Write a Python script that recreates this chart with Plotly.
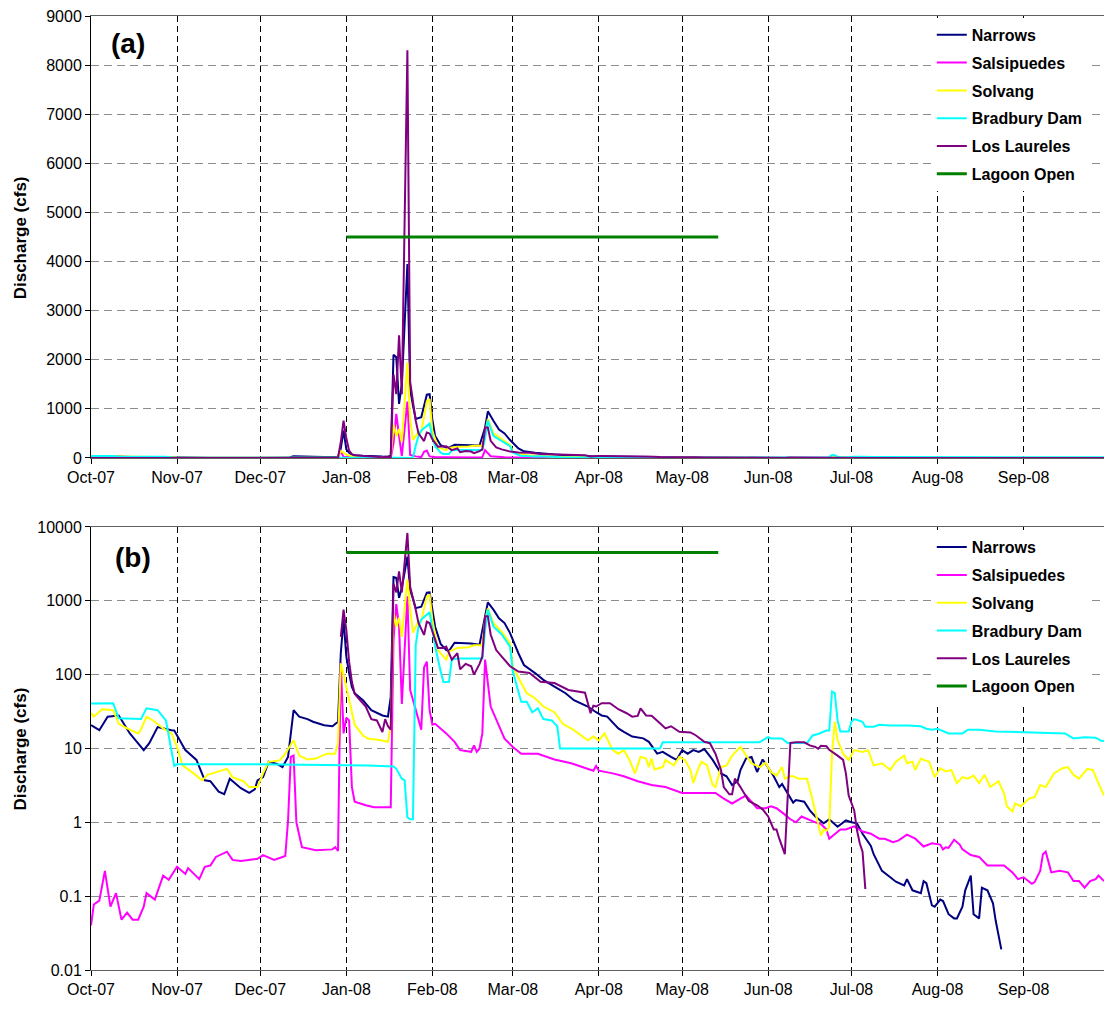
import pandas as pd
import plotly.graph_objects as go

START = pd.Timestamp("2007-10-01")

# ---- data: day offsets from 1-Oct-2007 and discharge (cfs) ----
narrows_day = [0, 3, 6, 10, 14, 19, 21, 24, 29, 30, 34, 38, 41, 43, 46, 48, 50, 52, 54, 57, 59, 60,
               62, 64, 67, 69, 71, 73, 75, 78, 80, 84, 87, 89, 90, 91, 92, 93, 94, 95, 98, 101, 105,
               107, 108, 109, 110, 111, 112, 114, 115, 116, 117, 119, 121, 122, 123, 124, 126, 128,
               129, 131, 137, 140, 142, 143, 145, 147, 149, 151, 154, 156, 160, 163, 167, 171, 174,
               179, 182, 184, 186, 190, 192, 195, 199, 201, 204, 206, 209, 211, 213, 215, 217, 219,
               221, 224, 227, 229, 231, 233, 234, 236, 238, 240, 242, 243, 246, 248, 249, 251, 253,
               254, 257, 259, 261, 264, 266, 269, 272, 274, 276, 278, 281, 282, 285, 288, 290, 293,
               294, 296, 299, 300, 301, 303, 304, 306, 307, 309, 311, 312, 314, 315, 317, 318, 320,
               321, 323, 325, 326, 328, 329, 365]
narrows_cfs = [20.7, 17.7, 27, 28, 16, 9.5, 11.8, 19.5, 17.7, 17.5, 9.5, 7, 3.7, 3.6, 2.6, 2.4, 3.9,
               3.4, 2.9, 2.5, 2.8, 3.7, 4.1, 6.6, 6.2, 5.6, 7.7, 33, 27, 25, 23, 20.7, 20, 23, 195,
               560, 175, 105, 68, 56, 45, 33, 28, 27, 50, 2100, 2050, 1100, 1500, 3950, 1400, 1070,
               795, 830, 1290, 1300, 780, 445, 260, 215, 210, 270, 265, 255, 620, 950, 760, 580,
               500, 365, 195, 135, 105, 85, 69, 56, 45, 37, 31, 28, 27, 18.7, 16.8, 14.5, 13.7,
               12.3, 8.5, 9, 7.7, 7.0, 9.5, 8.5, 9.5, 9, 9.8, 7, 4.6, 4.2, 3.2, 3.6, 5.1, 7.3, 7.7,
               4.8, 7.1, 6.3, 4.2, 3.0, 3.3, 2.5, 1.85, 2.0, 1.9, 1.45, 1.2, 0.97, 1.1, 0.87, 1.06,
               1.0, 0.97, 0.7, 0.48, 0.37, 0.22, 0.18, 0.157, 0.14, 0.17, 0.12, 0.11, 0.16, 0.15,
               0.075, 0.072, 0.09, 0.086, 0.057, 0.05, 0.05, 0.072, 0.12, 0.19, 0.057, 0.05, 0.13,
               0.12, 0.08, 0.046, 0.019, 0, 0]

salsipuedes_day = [0, 1, 3, 5, 7, 9, 11, 13, 15, 17, 19, 20, 23, 26, 28, 31, 34, 35, 39, 41, 43, 45,
                   49, 51, 54, 57, 60, 62, 66, 70, 71, 72, 73, 74, 76, 81, 87, 88, 89, 90, 91, 92,
                   93, 94, 95, 99, 102, 108, 109, 110, 111, 112, 114, 115, 117, 119, 120, 121, 122,
                   123, 124, 128, 131, 133, 137, 138, 139, 140, 141, 142, 144, 147, 149, 152, 155,
                   161, 167, 173, 179, 181, 182, 183, 188, 192, 197, 202, 207, 213, 221, 225, 228,
                   231, 234, 236, 240, 243, 245, 247, 250, 252, 254, 256, 261, 263, 265, 266, 270,
                   272, 275, 278, 281, 284, 286, 289, 291, 294, 297, 300, 303, 304, 306, 307, 308,
                   309, 311, 313, 314, 317, 320, 323, 326, 329, 332, 334, 336, 339, 340, 342, 343,
                   344, 346, 349, 352, 354, 356, 358, 360, 362, 363, 365]
salsipuedes_cfs = [0.04, 0.077, 0.087, 0.22, 0.072, 0.11, 0.048, 0.06, 0.048, 0.048, 0.072, 0.11,
                   0.09, 0.19, 0.167, 0.25, 0.2, 0.24, 0.17, 0.25, 0.26, 0.34, 0.4, 0.31, 0.3, 0.31,
                   0.32, 0.36, 0.31, 0.35, 1.06, 7.7, 8, 1.0, 0.46, 0.42, 0.43, 0.46, 0.41, 145, 16,
                   26, 24, 3, 1.9, 1.7, 1.6, 1.6, 300, 900, 450, 40, 1150, 62, 33, 18, 125, 150, 33,
                   21, 21.6, 16, 12.3, 9.5, 9, 11, 9, 10, 16, 160, 37, 20, 13.6, 10.5, 8.5, 8.5, 7.1,
                   6.3, 5.3, 5.0, 5.8, 5.0, 4.6, 4.2, 3.6, 3.2, 3.0, 2.5, 2.5, 2.5, 2.1, 1.8, 2.1, 2.3,
                   1.55, 1.55, 1.65, 1.55, 1.27, 1.1, 1.0, 1.2, 1.0, 0.95, 0.8, 0.6, 0.8, 0.8, 0.88,
                   0.75, 0.7, 0.6, 0.6, 0.54, 0.57, 0.68, 0.6, 0.47, 0.52, 0.51, 0.5, 0.43, 0.46, 0.45,
                   0.58, 0.5, 0.43, 0.36, 0.34, 0.26, 0.26, 0.26, 0.21, 0.17, 0.18, 0.147, 0.155, 0.22,
                   0.37, 0.4, 0.21, 0.22, 0.21, 0.16, 0.16, 0.13, 0.16, 0.17, 0.19, 0.16, 0.147]

solvang_day = [0, 1, 4, 8, 10, 13, 17, 18, 20, 23, 26, 29, 31, 33, 37, 40, 42, 46, 49, 51, 55, 57,
               60, 62, 64, 68, 70, 73, 75, 78, 81, 85, 88, 89, 90, 91, 92, 94, 95, 98, 100, 104,
               107, 108, 109, 110, 111, 112, 114, 115, 116, 118, 119, 121, 122, 123, 125, 128, 129,
               132, 136, 138, 141, 142, 143, 145, 148, 151, 152, 155, 157, 160, 163, 167, 170, 174,
               179, 181, 183, 185, 188, 190, 192, 194, 196, 198, 200, 201, 202, 203, 206, 207, 210,
               212, 214, 216, 217, 219, 220, 222, 224, 225, 227, 229, 231, 234, 236, 238, 241, 243,
               245, 247, 249, 250, 252, 253, 255, 258, 260, 261, 263, 264, 265, 266, 267, 268, 269,
               271, 273, 275, 276, 278, 280, 282, 285, 288, 290, 293, 294, 296, 297, 299, 300, 302,
               304, 306, 308, 310, 312, 314, 316, 318, 320, 322, 324, 327, 329, 330, 332, 333, 335,
               338, 340, 342, 344, 347, 350, 352, 354, 356, 359, 361, 363, 365]
solvang_cfs = [30.5, 27, 34, 33, 21.6, 18.7, 16, 18.1, 27, 23, 18.7, 16, 10.5, 5.9, 4.6, 3.7, 4.4,
               4.9, 5.3, 4.1, 3.6, 3.0, 3.0, 4.6, 6.6, 6.9, 8.5, 12.9, 8, 7.1, 7.3, 8.5, 8.5, 12,
               142, 100, 68, 33, 21, 15, 13.5, 13, 12.3, 20, 680, 445, 590, 325, 1950, 790, 370,
               530, 530, 1150, 1200, 550, 215, 160, 205, 230, 235, 250, 250, 550, 790, 500, 380,
               265, 128, 77, 56, 48, 37, 31, 21.6, 17.7, 12.9, 14.5, 12.9, 16, 9.5, 8.5, 9.5, 7,
               4.6, 7.7, 7.3, 5.6, 7.3, 5.2, 5.6, 7, 5.9, 7.7, 7, 5.1, 3.4, 5.6, 6.6, 5.9, 3.2,
               3.0, 5.6, 5.9, 8, 10.5, 8, 6.3, 5.6, 6.4, 4.8, 4.3, 5.6, 3.9, 4.2, 4.2, 3.9, 3.9,
               2.0, 1.4, 0.66, 0.8, 0.77, 0.87, 8.5, 23, 12.9, 8.5, 7, 9.5, 9.3, 9, 9.5, 5.9, 6.3,
               5.1, 6.6, 8, 6.3, 6.6, 5.1, 7.3, 7, 6.6, 4.1, 5.4, 4.9, 5.1, 3.4, 4.1, 3.9, 4.3,
               3.4, 4.4, 3.0, 3.6, 2.45, 1.65, 1.4, 1.8, 1.65, 2.1, 2.2, 3.2, 3.0, 4.6, 5.4, 5.6,
               4.4, 3.9, 5.3, 5.1, 3.4, 2.3]

bradbury_day = [0, 4, 8, 10, 18, 20, 24, 27, 30, 31, 60, 100, 109, 110, 112, 113, 114, 115, 116,
                117, 118, 119, 121, 122, 123, 124, 126, 127, 129, 130, 132, 141, 142, 143, 145, 148,
                151, 152, 155, 157, 159, 161, 163, 166, 168, 169, 205, 206, 241, 242, 244, 245, 249,
                251, 258, 260, 262, 265, 266, 267, 268, 269, 270, 273, 274, 275, 278, 279, 282, 284,
                288, 294, 299, 301, 303, 305, 309, 314, 316, 320, 326, 336, 351, 354, 358, 362, 364,
                365]
bradbury_cfs = [40.8, 40.8, 41, 25.6, 25, 35, 33, 24, 5.8, 6.1, 6.1, 5.9, 5.7, 5.3, 3.9, 3.7, 1.17,
                1.1, 1.1, 250, 450, 560, 650, 700, 420, 240, 110, 79, 80, 160, 165, 165, 400, 760,
                450, 350, 240, 110, 43, 43, 31, 35, 25, 24, 20, 10, 10, 12.1, 12.1, 12.9, 14.2, 13.7,
                13.7, 11.9, 11.9, 15, 15.7, 17.5, 17.5, 58.7, 56, 24, 17, 17, 23, 25, 23, 19.7, 19.7,
                21, 20.5, 20.5, 20, 18.5, 18, 18.5, 16, 16, 18, 18, 17, 16.5, 16, 13.7, 14.2, 14,
                12.7, 12.6]

laureles_day = [0, 89, 90, 91, 92, 93, 94, 95, 97, 99, 101, 103, 105, 106, 107, 108, 109, 110, 111,
                112, 114, 115, 117, 118, 120, 121, 122, 123, 125, 127, 128, 130, 132, 133, 135, 137,
                138, 140, 141, 142, 143, 144, 146, 148, 151, 154, 158, 162, 167, 172, 178, 180, 181,
                182, 183, 184, 187, 190, 193, 195, 197, 198, 200, 202, 205, 207, 209, 212, 216, 218,
                221, 223, 225, 227, 228, 230, 231, 232, 234, 236, 237, 240, 242, 244, 246, 247, 248,
                250, 252, 254, 257, 259, 261, 262, 263, 265, 266, 269, 271, 272, 273, 275, 276, 277,
                278, 279, 280, 365]
laureles_cfs = [0, 0, 325, 760, 400, 150, 80, 55, 45, 37, 25, 24, 16.7, 25, 20, 18, 1700, 1300, 2500,
                1300, 8300, 1550, 760, 500, 345, 520, 500, 380, 230, 230, 240, 160, 195, 118, 140,
                130, 100, 140, 175, 620, 620, 350, 215, 175, 130, 110, 105, 80, 77, 62, 57, 30, 38,
                37, 39, 41, 41, 34, 30, 27, 27.6, 35, 28, 27.7, 22, 18.7, 20, 16.8, 16.5, 15, 12.3,
                11.8, 8.5, 5.1, 3.0, 2.4, 2.4, 3.9, 3.0, 2.2, 1.95, 1.7, 1.5, 1.2, 0.8, 0.8, 0.6,
                0.37, 11.9, 12.1, 12.1, 11, 10.5, 9.9, 10.9, 10.7, 9.6, 8, 7, 4.6, 2.3, 1.45, 0.78,
                0.52, 0.4, 0.125, 0, 0]

lagoon_dates = ["2008-01-01", "2008-05-14"]
lagoon_cfs = [4500, 4500]

log_tickvals = [0.01, 0.1, 1, 10, 100, 1000, 10000]
log_ticktext = ["0.01", "0.1", "1", "10", "100", "1000", "10000"]

series = [
    ("Narrows", narrows_day, narrows_cfs, "#000080", 2),
    ("Salsipuedes", salsipuedes_day, salsipuedes_cfs, "#FF00FF", 2),
    ("Solvang", solvang_day, solvang_cfs, "#FFFF00", 2),
    ("Bradbury Dam", bradbury_day, bradbury_cfs, "#00FFFF", 2),
    ("Los Laureles", laureles_day, laureles_cfs, "#800080", 2),
]

FONT = "Liberation Sans, Arial, sans-serif"

fig = go.Figure()
for k, (name, days, vals, color, w) in enumerate(series):
    dates = [START + pd.Timedelta(days=int(d)) for d in days]
    fig.add_trace(go.Scatter(x=dates, y=vals, mode="lines", name="<b>%s</b>" % name,
                             line=dict(color=color, width=w), xaxis="x", yaxis="y",
                             legend="legend", legendgroup="a%d" % k))
fig.add_trace(go.Scatter(x=pd.to_datetime(lagoon_dates), y=lagoon_cfs, mode="lines",
                         name="<b>Lagoon Open</b>", line=dict(color="#008000", width=3),
                         xaxis="x", yaxis="y", legend="legend", legendgroup="a5"))
for k, (name, days, vals, color, w) in enumerate(series):
    dates = [START + pd.Timedelta(days=int(d)) for d in days]
    logvals = [v if v > 0 else None for v in vals]
    fig.add_trace(go.Scatter(x=dates, y=logvals, mode="lines", name="<b>%s</b>" % name,
                             line=dict(color=color, width=w), xaxis="x2", yaxis="y2",
                             legend="legend2", legendgroup="b%d" % k, connectgaps=False))
fig.add_trace(go.Scatter(x=pd.to_datetime(lagoon_dates), y=lagoon_cfs, mode="lines",
                         name="<b>Lagoon Open</b>", line=dict(color="#008000", width=3),
                         xaxis="x2", yaxis="y2", legend="legend2", legendgroup="b5"))

xcommon = dict(type="date", range=["2007-10-01", "2008-09-30"], tick0="2007-10-01", dtick="M1",
               tickformat="%b-%y", ticks="outside", ticklen=5, tickcolor="#000000",
               showgrid=True, gridcolor="#000000", gridwidth=1, griddash="6px,4px",
               showline=True, linecolor="#606060", linewidth=1, mirror=True,
               tickfont=dict(family=FONT, size=16, color="#000000"), zeroline=False)
ycommon = dict(ticks="outside", ticklen=5, tickcolor="#000000", showgrid=True,
               gridcolor="#8c8c8c", gridwidth=1, griddash="8px,5px",
               showline=True, linecolor="#000000", linewidth=1, zeroline=False,
               tickfont=dict(family=FONT, size=16, color="#000000"))

legend_common = dict(bgcolor="#FFFFFF", borderwidth=0, tracegroupgap=4,
                     font=dict(family=FONT, size=16, color="#000000"),
                     xanchor="left", yanchor="top", x=0.83)

title_font = dict(family=FONT, size=17, color="#000000")
label_font = dict(family=FONT, size=28, color="#000000")

fig.update_layout(
    width=1105, height=1011,
    margin=dict(l=91, r=1, t=16, b=41),
    paper_bgcolor="#FFFFFF", plot_bgcolor="#FFFFFF",
    font=dict(family=FONT, size=16, color="#000000"),
    showlegend=True,
    xaxis=dict(domain=[0, 1], anchor="y", **xcommon),
    yaxis=dict(domain=[0.5367, 1], anchor="x", range=[0, 9000], dtick=1000, **ycommon),
    xaxis2=dict(domain=[0, 1], anchor="y2", **xcommon),
    yaxis2=dict(domain=[0, 0.4644], anchor="x2", type="log", range=[-2, 4],
                tickvals=log_tickvals, ticktext=log_ticktext, **ycommon),
    legend=dict(y=0.998, **legend_common),
    legend2=dict(y=0.461, **legend_common),
    annotations=[
        dict(text="<b>(a)</b>", xref="paper", yref="paper", x=0.0365, y=0.9716,
             xanchor="center", yanchor="middle", showarrow=False, font=label_font),
        dict(text="<b>(b)</b>", xref="paper", yref="paper", x=0.0414, y=0.4319,
             xanchor="center", yanchor="middle", showarrow=False, font=label_font),
        dict(text="<b>Discharge (cfs)</b>", xref="paper", yref="paper", x=-0.0701,
             y=0.768, xanchor="center", yanchor="middle", textangle=-90, showarrow=False,
             font=title_font),
        dict(text="<b>Discharge (cfs)</b>", xref="paper", yref="paper", x=-0.0701,
             y=0.2322, xanchor="center", yanchor="middle", textangle=-90, showarrow=False,
             font=title_font),
    ],
)

fig.write_html("out.html", config={"displayModeBar": False},
               post_script="document.body.style.margin='0';")
